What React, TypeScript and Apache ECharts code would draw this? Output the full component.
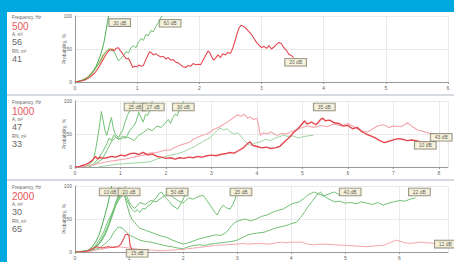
import React, { useEffect, useRef } from "react";
import * as echarts from "echarts";

// ---------- Panel info ----------
const panelFreq = ["500", "1000", "2000"];
const panelA = ["56", "47", "30"];
const panelRN = ["41", "33", "65"];
const panelXMax = [6, 8.2, 6.9];
const xTickLabels = [
  ["0", "1", "2", "3", "4", "5", "6"],
  ["0", "1", "2", "3", "4", "5", "6", "7", "8"],
  ["0", "1", "2", "3", "4", "5", "6"],
];
const yTicks = [0, 50, 100];

// ---------- Panel 1 (500 Hz) ----------
const p1Red20: number[][] = [[0,0],[0.08,1],[0.16,3],[0.24,7],[0.32,14],[0.38,22],[0.44,32],[0.5,42],[0.55,48],[0.6,49],[0.63,47],[0.66,51],[0.7,52],[0.73,47],[0.76,44],[0.8,38],[0.83,35],[0.86,36],[0.9,28],[0.93,22],[0.96,24],[1.0,23],[1.03,26],[1.06,24],[1.1,25],[1.13,32],[1.16,38],[1.2,46],[1.23,44],[1.26,41],[1.3,43],[1.34,40],[1.38,38],[1.42,39],[1.46,35],[1.5,37],[1.54,33],[1.58,34],[1.62,30],[1.66,29],[1.7,26],[1.74,23],[1.78,22],[1.82,25],[1.86,24],[1.9,28],[1.94,26],[1.98,27],[2.02,26],[2.06,33],[2.1,40],[2.14,47],[2.17,44],[2.2,38],[2.23,33],[2.26,36],[2.3,41],[2.34,37],[2.38,43],[2.42,41],[2.46,45],[2.5,43],[2.54,52],[2.58,64],[2.61,74],[2.64,82],[2.67,86],[2.7,85],[2.73,83],[2.76,80],[2.8,76],[2.84,72],[2.88,66],[2.92,60],[2.96,56],[3.0,52],[3.04,54],[3.08,51],[3.12,55],[3.16,50],[3.2,53],[3.24,57],[3.28,60],[3.32,58],[3.36,52],[3.4,48],[3.44,42],[3.48,40],[3.52,37]];
const p1Green30: number[][] = [[0,0],[0.1,2],[0.2,6],[0.28,14],[0.34,24],[0.4,38],[0.44,50],[0.47,62],[0.5,78],[0.52,90],[0.54,100]];
const p1Green60: number[][] = [[0,0],[0.1,2],[0.2,6],[0.3,16],[0.4,30],[0.48,44],[0.55,50],[0.6,48],[0.64,44],[0.67,38],[0.7,32],[0.74,36],[0.78,40],[0.82,46],[0.86,44],[0.9,52],[0.94,55],[0.98,52],[1.02,60],[1.06,66],[1.1,63],[1.14,72],[1.18,70],[1.22,78],[1.26,76],[1.3,84],[1.34,90],[1.38,97],[1.4,100]];
const p1Orange: number[][] = [[0,0],[0.1,2],[0.2,7],[0.3,17],[0.38,28],[0.45,40],[0.5,46],[0.55,50],[0.6,50],[0.63,48]];
const p1Labels: (number | string)[][] = [[0.72, 90, "30 dB"], [1.53, 89, "60 dB"], [3.55, 30, "20 dB"]];

// ---------- Panel 2 (1000 Hz) ----------
const p2Red10: number[][] = [[0,0],[0.1,1],[0.2,3],[0.3,6],[0.38,10],[0.45,16],[0.5,12],[0.55,15],[0.6,13],[0.7,14],[0.8,16],[0.9,15],[1.0,18],[1.1,17],[1.2,20],[1.3,21],[1.4,19],[1.5,22],[1.6,18],[1.7,20],[1.8,16],[1.9,15],[2.0,13],[2.1,14],[2.2,12],[2.3,14],[2.4,13],[2.5,15],[2.6,14],[2.7,16],[2.8,15],[2.9,17],[3.0,18],[3.1,17],[3.2,19],[3.3,20],[3.4,22],[3.5,21],[3.6,25],[3.7,29],[3.8,36],[3.85,38],[3.9,33],[4.0,31],[4.1,29],[4.2,30],[4.3,28],[4.4,29],[4.5,31],[4.6,38],[4.7,44],[4.8,52],[4.9,58],[5.0,66],[5.05,70],[5.1,65],[5.2,68],[5.3,64],[5.4,72],[5.45,74],[5.5,70],[5.6,71],[5.7,67],[5.8,66],[5.9,62],[6.0,63],[6.1,58],[6.2,60],[6.3,54],[6.4,50],[6.5,47],[6.6,44],[6.7,40],[6.8,37],[6.9,39],[7.0,41],[7.1,43],[7.2,42],[7.3,40],[7.4,41],[7.5,40],[7.6,38],[7.7,37],[7.8,36]];
const p2Pink43: number[][] = [[0.1,0],[0.3,2],[0.5,5],[0.7,8],[0.9,10],[1.1,12],[1.3,15],[1.5,18],[1.65,21],[1.8,22],[1.95,25],[2.1,26],[2.2,30],[2.3,33],[2.4,35],[2.53,38],[2.6,42],[2.7,45],[2.8,48],[2.9,50],[2.97,53],[3.05,57],[3.15,60],[3.25,64],[3.35,68],[3.45,73],[3.57,79],[3.65,77],[3.72,80],[3.79,74],[3.85,76],[3.92,72],[4.0,74],[4.04,62],[4.07,48],[4.15,52],[4.22,50],[4.3,53],[4.38,50],[4.45,48],[4.55,51],[4.65,50],[4.74,53],[4.85,56],[4.96,59],[5.1,62],[5.25,60],[5.4,63],[5.55,61],[5.7,65],[5.85,62],[6.0,66],[6.06,64],[6.2,58],[6.3,55],[6.43,53],[6.55,58],[6.65,62],[6.78,64],[6.9,60],[7.0,62],[7.16,61],[7.25,64],[7.31,67],[7.4,62],[7.53,56],[7.65,54],[7.75,52],[7.85,50],[8.0,48]];
const p2Green25: number[][] = [[0.2,0],[0.3,3],[0.4,10],[0.45,25],[0.5,45],[0.55,68],[0.58,84],[0.62,70],[0.66,55],[0.7,48],[0.75,62],[0.8,75],[0.84,60],[0.88,50],[0.92,47],[0.96,45],[1.0,50],[1.05,56],[1.1,68],[1.15,78],[1.2,85],[1.25,92],[1.3,100]];
const p2Green27: number[][] = [[0.3,0],[0.4,4],[0.5,12],[0.6,22],[0.7,35],[0.75,44],[0.8,40],[0.85,48],[0.9,46],[0.95,42],[1.0,44],[1.05,47],[1.1,43],[1.15,48],[1.2,55],[1.3,63],[1.35,70],[1.4,83],[1.45,75],[1.5,68],[1.55,80],[1.6,78],[1.65,88],[1.7,100]];
const p2Green30: number[][] = [[0.3,0],[0.45,5],[0.6,12],[0.7,25],[0.8,38],[0.9,45],[1.0,42],[1.1,46],[1.2,44],[1.3,40],[1.4,48],[1.5,52],[1.6,58],[1.7,55],[1.8,62],[1.9,60],[2.0,68],[2.05,72],[2.1,66],[2.15,75],[2.2,80],[2.25,78],[2.3,88],[2.35,95],[2.4,100]];
const p2Green35: number[][] = [[0.5,0],[0.7,2],[0.9,4],[1.1,5],[1.3,6],[1.5,7],[1.65,8],[1.8,12],[1.95,15],[2.1,18],[2.25,20],[2.38,23],[2.5,27],[2.6,30],[2.7,34],[2.8,38],[2.9,42],[2.97,44],[3.05,50],[3.12,55],[3.19,59],[3.27,56],[3.35,58],[3.41,53],[3.5,50],[3.58,52],[3.63,48],[3.7,42],[3.78,36],[3.85,33],[3.95,36],[4.07,38],[4.2,42],[4.3,40],[4.4,44],[4.5,46],[4.58,48],[4.7,46],[4.8,47],[4.9,44],[4.96,45],[5.1,47],[5.24,48]];
const p2Labels: (number | string)[][] = [[1.32, 91, "25 dB"], [1.72, 91, "27 dB"], [2.38, 91, "30 dB"], [5.48, 91, "35 dB"], [7.7, 33, "10 dB"], [8.05, 45, "43 dB"]];

// ---------- Panel 3 (2000 Hz) ----------
const p3Green10: number[][] = [[0,0],[0.15,1],[0.25,3],[0.32,8],[0.38,15],[0.44,25],[0.5,40],[0.55,55],[0.6,70],[0.64,85],[0.68,100]];
const p3Green20: number[][] = [[0,0],[0.2,1],[0.3,4],[0.38,10],[0.46,20],[0.54,32],[0.6,45],[0.66,55],[0.72,66],[0.78,75],[0.84,86],[0.9,95],[0.94,100]];
const p3Green50: number[][] = [[0,0],[0.2,1],[0.3,3],[0.4,8],[0.5,18],[0.6,35],[0.68,55],[0.74,72],[0.8,85],[0.86,92],[0.9,88],[0.95,80],[1.0,72],[1.05,65],[1.1,61],[1.15,64],[1.2,60],[1.25,66],[1.3,65],[1.35,70],[1.4,72],[1.45,78],[1.5,82],[1.55,88],[1.6,91],[1.65,85],[1.7,80],[1.75,76],[1.8,70],[1.85,68],[1.9,65],[1.95,72],[2.0,80],[2.05,88],[2.1,92]];
const p3Green25: number[][] = [[0,0],[0.25,2],[0.35,6],[0.45,14],[0.55,28],[0.62,42],[0.7,60],[0.76,72],[0.82,80],[0.88,86],[0.92,90],[0.96,84],[1.0,76],[1.05,70],[1.1,66],[1.15,70],[1.2,75],[1.3,72],[1.4,78],[1.5,76],[1.6,82],[1.7,88],[1.8,84],[1.9,78],[2.0,74],[2.1,82],[2.19,80],[2.28,84],[2.37,86],[2.44,78],[2.5,71],[2.57,62],[2.63,56],[2.68,64],[2.74,71],[2.8,67],[2.87,65],[2.92,72],[2.96,80],[3.0,91]];
const p3Green40: number[][] = [[0,0],[0.25,2],[0.35,5],[0.45,12],[0.55,25],[0.65,45],[0.72,62],[0.78,78],[0.84,88],[0.88,92],[0.92,85],[0.96,72],[1.0,60],[1.05,50],[1.1,45],[1.15,40],[1.2,36],[1.3,33],[1.4,30],[1.5,27],[1.6,24],[1.7,22],[1.8,18],[1.9,15],[2.0,12],[2.1,14],[2.2,17],[2.3,20],[2.4,22],[2.5,24],[2.6,26],[2.7,25],[2.8,30],[2.85,35],[2.9,40],[2.96,45],[3.05,48],[3.15,50],[3.25,47],[3.35,50],[3.45,54],[3.55,56],[3.65,60],[3.75,63],[3.85,65],[3.95,70],[4.05,74],[4.15,76],[4.25,82],[4.3,86],[4.35,88],[4.42,91],[4.5,88],[4.6,85],[4.7,88],[4.8,91],[4.9,86]];
const p3Green22: number[][] = [[0.1,0],[0.3,2],[0.45,6],[0.55,12],[0.65,20],[0.72,30],[0.8,38],[0.88,36],[0.95,30],[1.0,26],[1.1,22],[1.2,18],[1.3,16],[1.4,15],[1.5,13],[1.6,11],[1.7,9],[1.8,8],[1.9,6],[2.0,5],[2.1,8],[2.2,10],[2.3,11],[2.4,10],[2.5,12],[2.6,13],[2.7,14],[2.8,15],[2.9,16],[3.0,18],[3.1,22],[3.2,26],[3.3,28],[3.4,29],[3.5,30],[3.6,33],[3.7,36],[3.8,38],[3.9,40],[4.0,43],[4.1,45],[4.17,52],[4.25,61],[4.32,70],[4.4,78],[4.47,86],[4.54,91],[4.6,85],[4.7,80],[4.8,76],[4.9,77],[5.0,74],[5.1,75],[5.2,73],[5.3,76],[5.4,74],[5.5,72],[5.6,75],[5.7,71],[5.8,74],[5.9,76],[6.0,78],[6.1,77],[6.2,80],[6.3,82]];
const p3Red15: number[][] = [[0,0],[0.2,1],[0.3,4],[0.4,8],[0.5,6],[0.6,8],[0.7,7],[0.8,8],[0.85,12],[0.9,20],[0.93,26],[0.97,27],[1.0,24],[1.02,10],[1.05,4],[1.1,2]];
const p3Pink12: number[][] = [[0.2,0],[0.4,3],[0.6,6],[0.8,8],[1.0,6],[1.2,4],[1.4,3],[1.6,2],[1.8,3],[2.0,4],[2.2,6],[2.4,8],[2.6,10],[2.8,11],[3.0,12],[3.1,13],[3.2,12],[3.4,13],[3.6,12],[3.8,15],[3.9,14],[4.0,15],[4.2,15],[4.3,12],[4.4,11],[4.6,12],[4.8,11],[5.0,10],[5.2,9],[5.4,8],[5.5,9],[5.7,10],[5.85,15],[5.95,18],[6.1,14],[6.2,13],[6.4,15],[6.5,14],[6.7,13]];
const p3Labels: (number | string)[][] = [[0.65, 91, "10 dB"], [1.0, 91, "20 dB"], [1.89, 91, "50 dB"], [3.07, 91, "25 dB"], [5.09, 91, "40 dB"], [6.37, 91, "22 dB"], [1.15, -2, "15 dB"], [6.85, 12, "12 dB"]];

const GREEN = "#72c076";
const GREEN_DARK = "#4fae55";
const RED = "#e5474f";
const PINK = "#f3a6ad";
const ORANGE = "#d6a458";
const FONT = "Liberation Sans";

export default function App() {
  const ref = useRef<HTMLDivElement>(null);

  useEffect(() => {
    if (!ref.current) return;
    const chart = echarts.init(ref.current, undefined, { renderer: "svg" });

    const gridTops = [16, 101, 186];
    const grids = gridTops.map((t) => ({ left: 75, top: t, width: 373, height: 66, containLabel: false }));

    const xAxes = panelXMax.map((mx, i) => ({
      type: "value",
      gridIndex: i,
      min: 0,
      max: mx,
      interval: 1,
      axisLine: { lineStyle: { color: "#9a9a9a", width: 1 } },
      axisTick: { show: true, length: 2, lineStyle: { color: "#9a9a9a" } },
      axisLabel: {
        fontSize: 5,
        color: "#666",
        margin: 3,
        fontFamily: FONT,
        showMaxLabel: Number.isInteger(mx),
        formatter: (v: number) => (xTickLabels[i].includes(String(v)) ? String(v) : ""),
      },
      splitLine: { show: true, lineStyle: { color: "#e4e4e4", width: 0.8 } },
    }));

    const yAxes = [0, 1, 2].map((i) => ({
      type: "value",
      gridIndex: i,
      min: yTicks[0],
      max: yTicks[2],
      interval: 50,
      name: "Probability, %",
      nameLocation: "middle",
      nameRotate: 90,
      nameGap: 9,
      nameMoveOverlap: false,
      nameTextStyle: { fontSize: 5, color: "#666", fontFamily: FONT },
      axisLine: { show: true, lineStyle: { color: "#9a9a9a", width: 1 } },
      axisTick: { show: false },
      axisLabel: { fontSize: 5, color: "#666", margin: 3, fontFamily: FONT },
      splitLine: { show: true, lineStyle: { color: "#e4e4e4", width: 0.8 } },
    }));

    const line = (data: number[][], idx: number, color: string, width = 1) => ({
      type: "line",
      xAxisIndex: idx,
      yAxisIndex: idx,
      data,
      showSymbol: false,
      symbol: "none",
      lineStyle: { color, width },
      silent: true,
      z: 3,
    });

    const labels = (data: (number | string)[][], idx: number) => ({
      type: "scatter",
      xAxisIndex: idx,
      yAxisIndex: idx,
      data,
      symbolSize: 0,
      clip: false,
      silent: true,
      z: 10,
      label: {
        show: true,
        position: "inside",
        formatter: (p: any) => p.value[2],
        fontSize: 5,
        fontFamily: FONT,
        color: "#333",
        backgroundColor: "#f4efd4",
        borderColor: "#6d6a58",
        borderWidth: 0.8,
        padding: [1, 4, 0, 4],
        lineHeight: 6,
      },
    });

    const series = [
      line(p1Orange, 0, ORANGE, 1.2),
      line(p1Green60, 0, GREEN, 1),
      line(p1Green30, 0, GREEN_DARK, 1),
      line(p1Red20, 0, RED, 1.1),
      labels(p1Labels, 0),

      line(p2Green25, 1, GREEN, 1),
      line(p2Green27, 1, GREEN, 1),
      line(p2Green30, 1, GREEN, 1),
      line(p2Green35, 1, "#9fd3a0", 1),
      line(p2Pink43, 1, PINK, 1.1),
      line(p2Red10, 1, RED, 1.4),
      labels(p2Labels, 1),

      line(p3Green10, 2, GREEN_DARK, 1),
      line(p3Green20, 2, GREEN, 1),
      line(p3Green50, 2, GREEN, 1),
      line(p3Green25, 2, GREEN, 1),
      line(p3Green40, 2, GREEN, 1),
      line(p3Green22, 2, GREEN, 1),
      line(p3Pink12, 2, PINK, 1),
      line(p3Red15, 2, RED, 1.1),
      labels(p3Labels, 2),
    ];

    const infoTexts: any[] = [];
    [0, 1, 2].forEach((i) => {
      const oy = i * 85;
      infoTexts.push(
        { type: "text", left: 12, top: 15 + oy, style: { text: "Frequency, Hz", fontSize: 4.5, fill: "#666", fontFamily: FONT } },
        { type: "text", left: 12, top: 21.5 + oy, style: { text: panelFreq[i], fontSize: 10, fill: "#e8565c", fontFamily: FONT } },
        { type: "text", left: 12, top: 32 + oy, style: { text: "A, m²", fontSize: 4.5, fill: "#666", fontFamily: FONT } },
        { type: "text", left: 12, top: 37.5 + oy, style: { text: panelA[i], fontSize: 9, fill: "#666", fontFamily: FONT } },
        { type: "text", left: 12, top: 49 + oy, style: { text: "RN, m²", fontSize: 4.5, fill: "#666", fontFamily: FONT } },
        { type: "text", left: 12, top: 54.5 + oy, style: { text: panelRN[i], fontSize: 9, fill: "#666", fontFamily: FONT } }
      );
    });

    chart.setOption({
      animation: false,
      backgroundColor: "transparent",
      textStyle: { fontFamily: FONT },
      grid: grids,
      xAxis: xAxes,
      yAxis: yAxes,
      series,
      graphic: infoTexts,
    });

    return () => chart.dispose();
  }, []);

  return (
    <div style={{ position: "absolute", left: 0, top: 0, width: 454, height: 262, background: "#00a8e0", overflow: "hidden" }}>
      <div style={{ position: "absolute", left: 7, top: 12, width: 447, height: 250, background: "#ffffff" }} />
      <div style={{ position: "absolute", left: 7, top: 94, width: 447, height: 2, background: "#d5dbe0" }} />
      <div style={{ position: "absolute", left: 7, top: 179, width: 447, height: 2, background: "#d5dbe0" }} />
      <div ref={ref} style={{ position: "absolute", left: 0, top: 0, width: 454, height: 262 }} />
    </div>
  );
}
